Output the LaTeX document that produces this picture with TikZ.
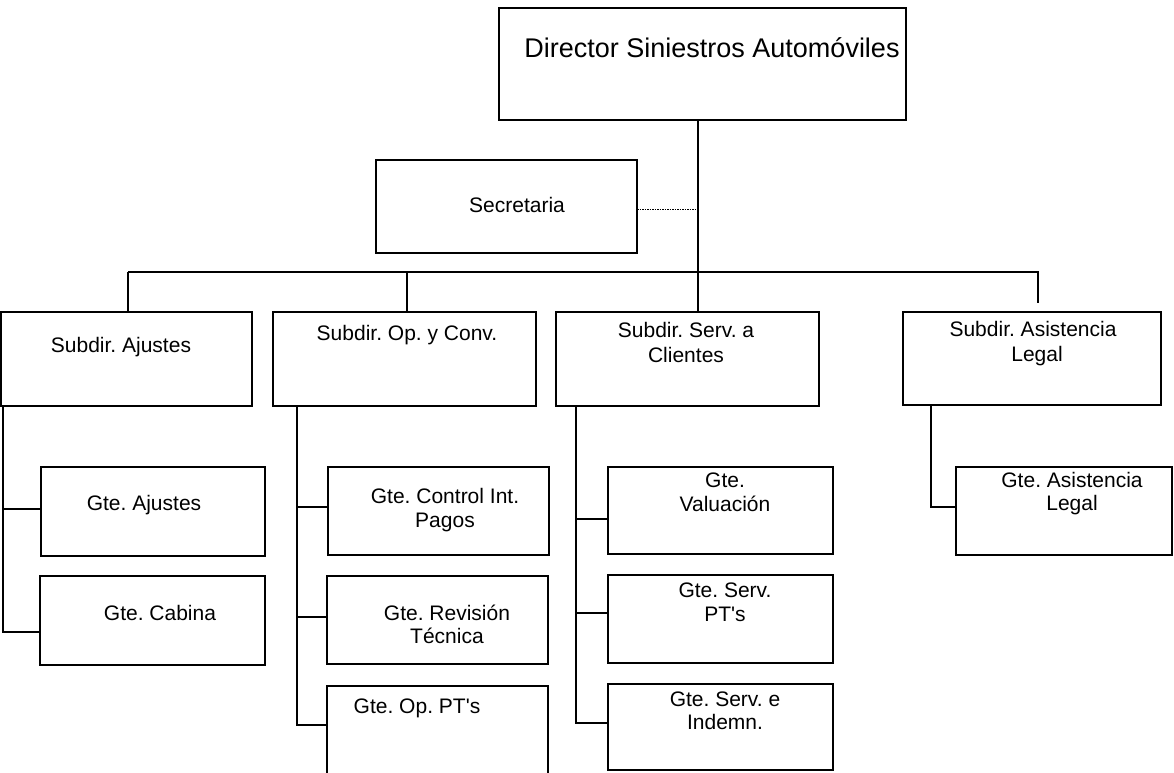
\documentclass[tikz,border=0pt]{standalone}
\usepackage{fontspec}
\setmainfont{Liberation Sans}
\usetikzlibrary{calc}
\frenchspacing
\tikzset{
  box/.style={draw=black, line width=1.6pt, inner sep=0pt, outer sep=0pt, rectangle},
  txt/.style={inner sep=0pt, outer sep=0pt, anchor=base, font=\fontsize{21}{24}\selectfont},
  bigtxt/.style={inner sep=0pt, outer sep=0pt, anchor=base, font=\fontsize{27}{32}\selectfont},
  conn/.style={draw=black, line width=1.5pt},
  dotconn/.style={draw=black, line width=0.9pt, dash pattern=on 1.5pt off 1pt}
}
\newcommand\mybox[5]{\node[box, minimum width={#4-#2}, minimum height={#5-#3}] (#1) at ({(#2+#4)/2},{(#3+#5)/2}) {};}
\begin{document}
\begin{tikzpicture}[x=1pt,y=-1pt]
\useasboundingbox (0,0) rectangle (1174,772);
% boxes
\mybox{dir}{499}{8}{906}{120}
\mybox{sec}{376}{160}{637}{253}
\mybox{sa}{1}{312}{252}{406}
\mybox{so}{273}{312}{536}{406}
\mybox{ss}{556}{312}{819}{406}
\mybox{sl}{903}{312}{1161}{405}
\mybox{ga}{41}{467}{265}{556}
\mybox{gc}{40}{576}{265}{665}
\mybox{gci}{328}{467}{549}{555}
\mybox{grt}{327}{576}{548}{664}
\mybox{gop}{327}{686}{548}{785}
\mybox{gv}{608}{467}{833}{554}
\mybox{gsp}{608}{575}{833}{663}
\mybox{gsi}{608}{684}{833}{770}
\mybox{gal}{956}{467}{1172}{555}
% texts
\node[bigtxt] (tdir) at (712,57) {Director Siniestros Automóviles};
\node[txt] (tsec) at (517,212) {Secretaria};
\node[txt] (tsa) at (121,352) {Subdir. Ajustes};
\node[txt] (tso) at (407,340) {Subdir. Op. y Conv.};
\node[txt] (tss1) at (686,337) {Subdir. Serv. a};
\node[txt] (tss2) at (686,362) {Clientes};
\node[txt] (tsl1) at (1033,336) {Subdir. Asistencia};
\node[txt] (tsl2) at (1037,361) {Legal};
\node[txt] (tga) at (144,510) {Gte. Ajustes};
\node[txt] (tgc) at (160,620) {Gte. Cabina};
\node[txt] (tgci1) at (445,503) {Gte. Control Int.};
\node[txt] (tgci2) at (445,527) {Pagos};
\node[txt] (tgrt1) at (447,620) {Gte. Revisión};
\node[txt] (tgrt2) at (447,643) {Técnica};
\node[txt] (tgop) at (417,713) {Gte. Op. PT\textquotesingle s};
\node[txt] (tgv1) at (725,487) {Gte.};
\node[txt] (tgv2) at (725,511) {Valuación};
\node[txt] (tgsp1) at (725,597) {Gte. Serv.};
\node[txt] (tgsp2) at (725,621) {PT\textquotesingle s};
\node[txt] (tgsi1) at (725,706) {Gte. Serv. e};
\node[txt] (tgsi2) at (725,729) {Indemn.};
\node[txt] (tgal1) at (1072,487) {Gte. Asistencia};
\node[txt] (tgal2) at (1072,510) {Legal};
% connector coordinates
\coordinate (b1) at (128,272);
\coordinate (b2) at (407,272);
\coordinate (bj) at (698,272);
\coordinate (b4) at (1038,272);
\coordinate (b4e) at (1038,303);
\coordinate (sd) at (698,209);
\coordinate (va1) at (3,509);
\coordinate (va) at (3,632);
\coordinate (vo1) at (297,507);
\coordinate (vo2) at (297,617);
\coordinate (vo) at (297,725);
\coordinate (vs1) at (576,519);
\coordinate (vs2) at (576,613);
\coordinate (vs) at (576,723);
\coordinate (vl) at (931,507);
% top connectors
\draw[conn] (dir.south -| bj) -- (ss.north -| bj);
\draw[conn] (b1) -- (b4) -- (b4e);
\draw[conn] (b1) -- (b1 |- sa.north);
\draw[conn] (b2) -- (b2 |- so.north);
\draw[dotconn] (sec.east |- sd) -- (sd);
% children
\draw[conn] (sa.south -| va) -- (va) -- (va -| gc.west);
\draw[conn] (va1) -- (va1 -| ga.west);
\draw[conn] (so.south -| vo) -- (vo) -- (vo -| gop.west);
\draw[conn] (vo1) -- (vo1 -| gci.west);
\draw[conn] (vo2) -- (vo2 -| grt.west);
\draw[conn] (ss.south -| vs) -- (vs) -- (vs -| gsi.west);
\draw[conn] (vs1) -- (vs1 -| gv.west);
\draw[conn] (vs2) -- (vs2 -| gsp.west);
\draw[conn] (sl.south -| vl) -- (vl) -- (vl -| gal.west);
\end{tikzpicture}
\end{document}
